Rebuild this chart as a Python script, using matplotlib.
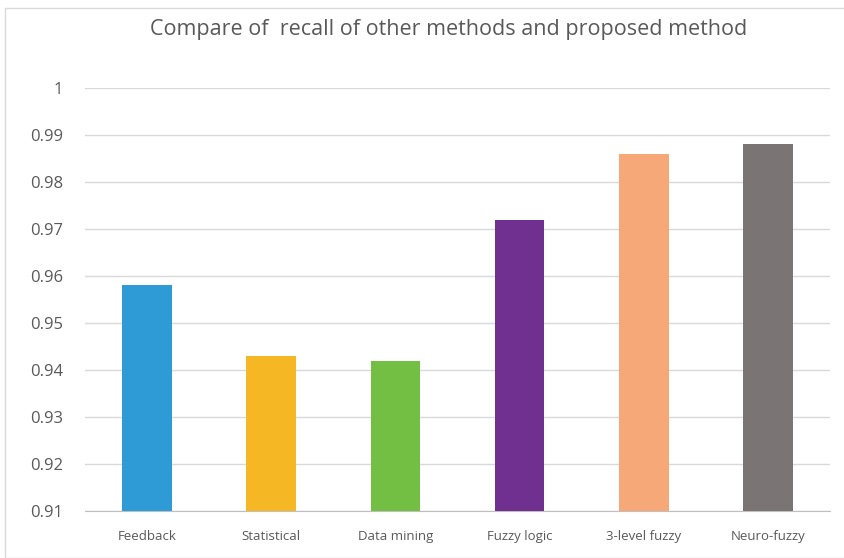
import matplotlib
matplotlib.use("Agg")
import matplotlib.pyplot as plt
from matplotlib.patches import Rectangle

# chart values
methods = ["Feedback", "Statistical", "Data mining", "Fuzzy logic", "3-level fuzzy", "Neuro-fuzzy"]
recall = [0.958, 0.943, 0.942, 0.972, 0.986, 0.988]
bar_colors = ["#2E9BD6", "#F5B824", "#72BF44", "#70308F", "#F6A878", "#7A7574"]
yticks = [0.91, 0.92, 0.93, 0.94, 0.95, 0.96, 0.97, 0.98, 0.99, 1.0]
ytick_labels = ["0.91", "0.92", "0.93", "0.94", "0.95", "0.96", "0.97", "0.98", "0.99", "1"]

plt.rcParams['font.family'] = ['Open Sans', 'DejaVu Sans']

fig = plt.figure(figsize=(8.45, 5.58), dpi=100)
ax = fig.add_axes([85 / 845, 47 / 558, 745 / 845, 423 / 558])

# light frame round the whole chart
fig.patches.append(Rectangle((5 / 845, 0.0), 840 / 845, 550 / 558, transform=fig.transFigure,
                             fill=False, edgecolor="#d9d9d9", linewidth=1))

x = range(len(methods))
ax.bar(x, recall, width=0.4, color=bar_colors, zorder=3)

ax.set_ylim(0.91, 1.0)
ax.set_xlim(-0.5, len(methods) - 0.5)
ax.set_yticks(yticks)
ax.set_yticklabels(ytick_labels, fontsize=12, color="#595959")
ax.set_xticks(list(x))
ax.set_xticklabels(methods, fontsize=9.5, color="#595959")
ax.tick_params(axis="both", length=0)
ax.tick_params(axis="y", pad=16)
ax.tick_params(axis="x", pad=14)

ax.grid(axis="y", color="#d9d9d9", linewidth=1, zorder=0)
for s in ["top", "right", "left"]:
    ax.spines[s].set_visible(False)
ax.spines["bottom"].set_color("#bfbfbf")

fig.text(449 / 845, 1 - 30 / 558, "Compare of  recall of other methods and proposed method",
         ha="center", va="center", fontsize=15.5, color="#595959")

fig.savefig("out.png", dpi=100)
